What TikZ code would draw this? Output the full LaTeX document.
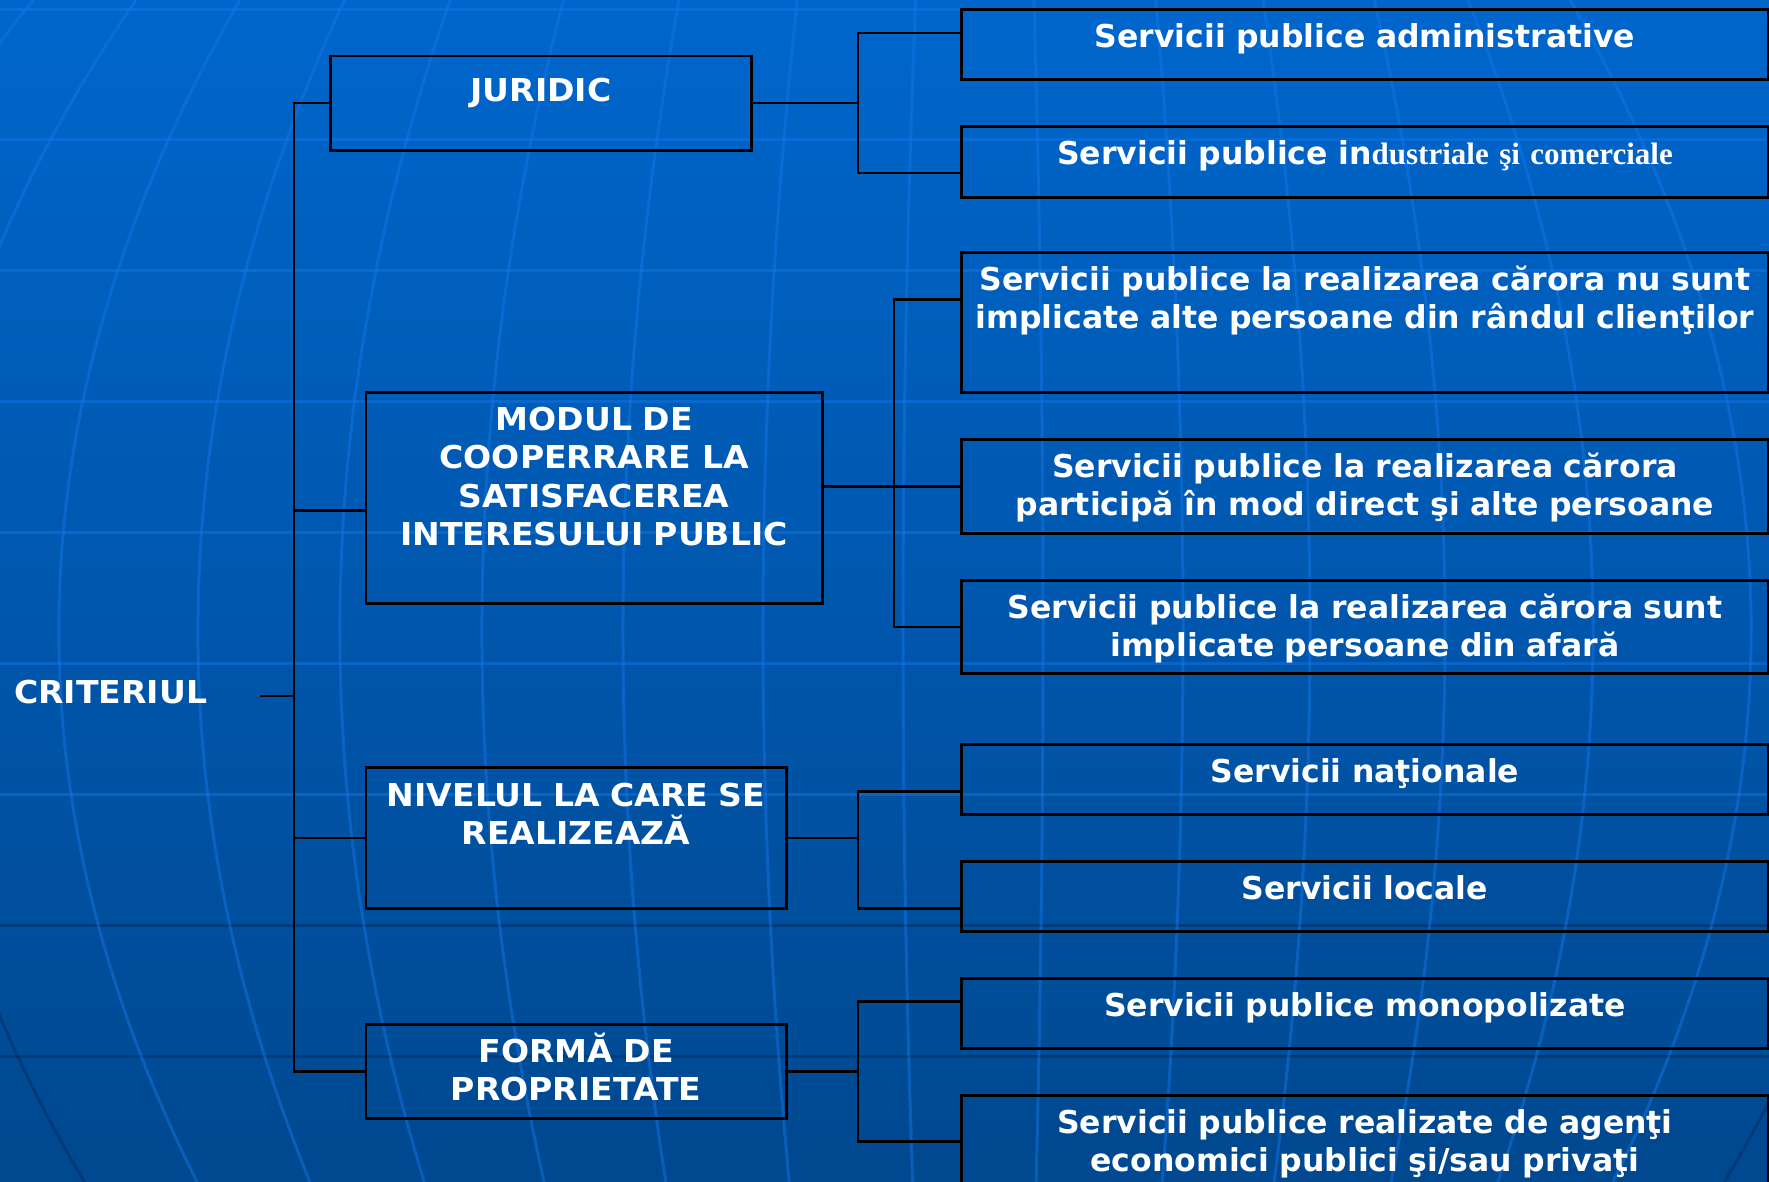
\documentclass[tikz,border=0pt]{standalone}
\usepackage{fontspec}
\setmainfont{DejaVu Sans}
\newfontfamily\capsfont{DejaVu Sans}[FakeStretch=1.05]
\newfontfamily\tnr{Liberation Serif}
\definecolor{bgtop}{RGB}{0,102,204}
\definecolor{bgbot}{RGB}{0,72,143}
\definecolor{gridlt}{RGB}{20,120,235}
\definecolor{griddk}{RGB}{0,40,90}
\tikzset{
  box/.style={draw=black,line width=2.8pt,anchor=north west,inner xsep=0pt,inner ysep=0pt,
    align=center,text=white,font=\fontsize{31.5}{38.4}\selectfont\bfseries,text height=38pt},
  cbox/.style={box,font=\capsfont\fontsize{31.5}{38.4}\selectfont\bfseries},
  rbox/.style={box,text width=807pt},
  lbl/.style={text=white,font=\capsfont\fontsize{31.5}{38.4}\selectfont\bfseries,inner sep=0pt},
  conn/.style={draw=black,line width=2.2pt},
  glt/.style={draw=gridlt,line width=3pt,opacity=0.45},
  gdk/.style={draw=griddk,line width=3pt,opacity=0.45},
}
\begin{document}
\begin{tikzpicture}[x=1pt,y=-1pt]
  \useasboundingbox (0,0) rectangle (1769,1182);
  \begin{scope}
    \clip (0,0) rectangle (1769,1182);
    \shade[top color=bgtop,bottom color=bgbot] (0,0) rectangle (1769,1182);
    \foreach \y in {10,140,271,401,532,663,794}
      \draw[glt] (0,\y) -- (1769,\y);
    \foreach \y in {925,1056}
      \draw[gdk] (0,\y) -- (1769,\y);
    \foreach \m/\s in {-220/1.4,59/1,198/0.81,340/0.61,482/0.45,623/0.31,763/0.19,903/0.07,1043/-0.05,1183/-0.15,1310/-0.26,1445/-0.39,1593/-0.69,1751/-1}
      \draw[glt] plot[domain=0:1182,samples=50,variable=\t] ({\m+(\s)*(4.55*((\t-611)/100)^2-1.8*(\t-611)/100)},\t);
    \draw[glt] plot[domain=0:611,samples=30,variable=\t] ({-81+1.2*(4.55*((\t-611)/100)^2-1.8*(\t-611)/100)},\t);
    \draw[gdk] plot[domain=611:1182,samples=30,variable=\t] ({-81+1.2*(4.55*((\t-611)/100)^2-1.8*(\t-611)/100)},\t);
    \draw[gdk] plot[domain=900:1182,samples=20,variable=\t] ({1890-1.2*(4.55*((\t-611)/100)^2-1.8*(\t-611)/100)},\t);
  \end{scope}

  \node [lbl,anchor=base west] (c) at (14,703) {CRITERIUL};
  \node [cbox,text width=421pt,text height=45pt,text depth=49.2pt] (1) at (329,54.7) {JURIDIC};
  \node [cbox,text width=456.5pt,text depth=173pt] (2) at (364.5,391) {MODUL DE\\COOPERRARE LA\\SATISFACEREA\\INTERESULUI PUBLIC};
  \node [cbox,text width=420.5pt,text height=38.6pt,text depth=102.4pt] (3) at (364.5,766) {NIVELUL LA CARE SE\\REALIZEAZĂ};
  \node [cbox,text width=420.5pt,text height=37.6pt,text depth=56.4pt] (4) at (364.5,1023) {FORMĂ DE\\PROPRIETATE};

  \node [rbox,text depth=32.5pt] (1a) at (960,8) {Servicii publice administrative};
  \node [rbox,text depth=33pt] (1b) at (960,125) {Servicii publice in{\tnr\fontsize{31}{38.4}\selectfont dustriale şi comerciale}};
  \node [rbox,text depth=102pt] (2a) at (960,251) {Servicii publice la realizarea cărora nu sunt\\implicate alte persoane din rândul clienţilor};
  \node [rbox,text depth=56pt] (2b) at (960,438) {Servicii publice la realizarea cărora\\participă în mod direct şi alte persoane};
  \node [rbox,text depth=55pt] (2c) at (960,579) {Servicii publice la realizarea cărora sunt\\implicate persoane din afară};
  \node [rbox,text depth=32pt] (3a) at (960,743) {Servicii naţionale};
  \node [rbox,text depth=32pt] (3b) at (960,860) {Servicii locale};
  \node [rbox,text depth=32pt] (4a) at (960,977) {Servicii publice monopolizate};
  \node [rbox,text depth=72pt] (4b) at (960,1094) {Servicii publice realizate de agenţi\\economici publici şi/sau privaţi};

  \coordinate (c0) at (259.5,696);
  \coordinate (t) at (294,696);
  \draw[conn] (c0) -- (t);
  \draw[conn] (1.west) -| (t) |- (4.west);
  \draw[conn] (t) |- ([yshift=-12.5pt]2.west);
  \draw[conn] (t) |- (3.west);

  \draw[conn] (1.east) -- ++(105,0) coordinate (j1);
  \draw[conn] ([yshift=11.75pt]1a.west) -| (j1) |- ([yshift=-11.5pt]1b.west);
  \draw[conn] ([yshift=11.5pt]2.east) -- ++(70,0) coordinate (j2);
  \draw[conn] ([yshift=23pt]2a.west) -| (j2) |- (2c.west);
  \draw[conn] (j2) -- (2b.west);
  \draw[conn] (3.east) -- ++(70,0) coordinate (j3);
  \draw[conn] ([yshift=-12pt]3a.west) -| (j3) |- ([yshift=-12pt]3b.west);
  \draw[conn] (4.east) -- ++(70,0) coordinate (j4);
  \draw[conn] ([yshift=12pt]4a.west) -| (j4) |- ([yshift=9pt]4b.west);
\end{tikzpicture}
\end{document}
